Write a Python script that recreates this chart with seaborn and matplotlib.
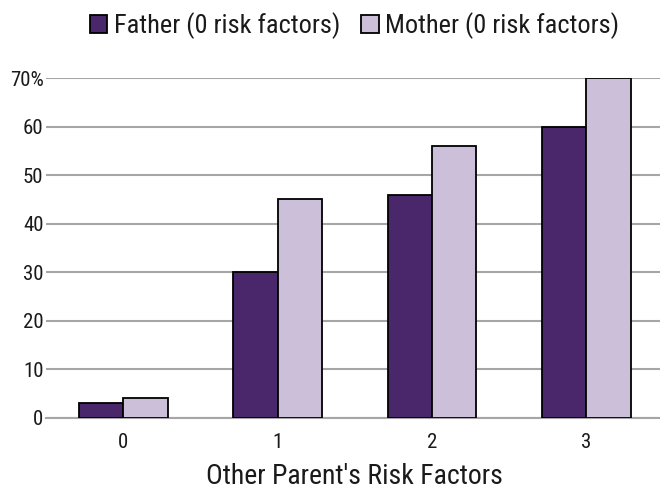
import pandas as pd
import matplotlib.pyplot as plt
import seaborn as sns

# data
risk_factors = ['0', '1', '2', '3']
father = [3, 30, 46, 60]
mother = [4, 45, 56, 70]
series = ['Father (0 risk factors)', 'Mother (0 risk factors)']
y_ticks = [0, 10, 20, 30, 40, 50, 60, 70]
y_labels = ['0', '10', '20', '30', '40', '50', '60', '70%']

df = pd.DataFrame({
    'factors': risk_factors * 2,
    'pct': father + mother,
    'parent': [series[0]] * 4 + [series[1]] * 4,
})

sns.set_style('white')
plt.rcParams['font.family'] = ['Roboto Condensed', 'DejaVu Sans']
plt.rcParams['font.stretch'] = 'condensed'

fig = plt.figure(figsize=(6.6, 4.98), dpi=100)
ax = fig.add_axes([0.07, 0.161, 0.935, 0.682])

sns.barplot(data=df, x='factors', y='pct', hue='parent',
            palette=['#4a266a', '#cbbfd9'], width=0.575,
            edgecolor='black', linewidth=1.3, saturation=1, ax=ax, zorder=3)

ax.set_ylim(0, 70)
ax.set_xlim(-0.5, 3.5)
ax.set_yticks(y_ticks)
ax.set_yticklabels(y_labels)
ax.yaxis.grid(True, color='#a6a6a6', linewidth=1.5, zorder=0)
ax.set_axisbelow(True)
for side in ['top', 'right', 'left']:
    ax.spines[side].set_visible(False)
ax.spines['bottom'].set_color('#a6a6a6')
ax.spines['bottom'].set_linewidth(1.5)
ax.tick_params(axis='both', length=0, labelsize=15, colors='#1a1a1a')
ax.tick_params(axis='x', pad=11)
ax.tick_params(axis='y', pad=2)

ax.set_ylabel('')
ax.set_xlabel("Other Parent's Risk Factors", fontsize=20, labelpad=8, color='#1a1a1a')

ax.legend(loc='center', bbox_to_anchor=(0.5, 1.155), ncol=2, frameon=False,
          fontsize=19, handlelength=0.65, handleheight=0.65, handletextpad=0.25,
          columnspacing=0.8, labelcolor='#1a1a1a')

fig.savefig('out.png', dpi=100)
